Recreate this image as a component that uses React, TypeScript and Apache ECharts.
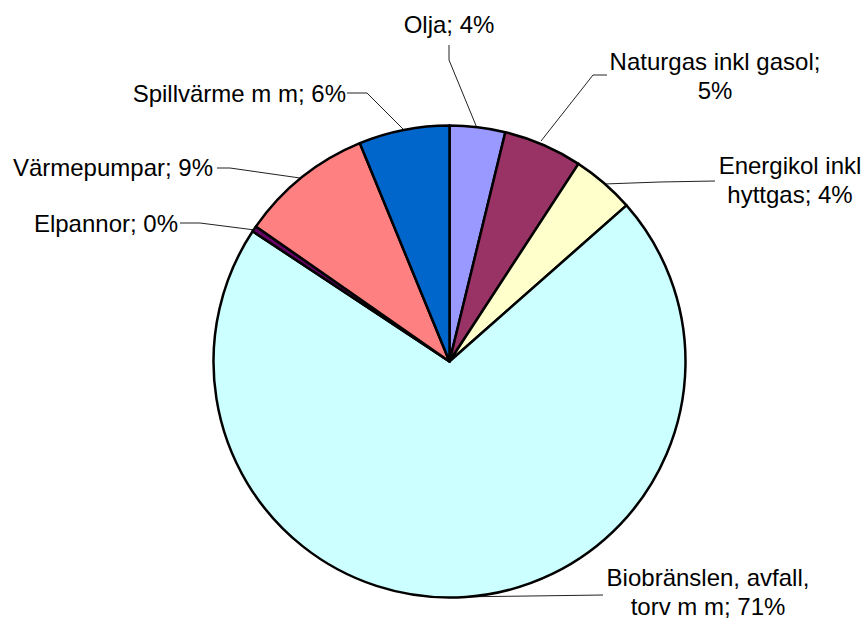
import React, { useEffect, useRef } from "react";
import * as echarts from "echarts";

const categories = [
  "Olja",
  "Naturgas inkl gasol",
  "Energikol inkl\nhyttgas",
  "Biobränslen, avfall,\ntorv m m",
  "Elpannor",
  "Värmepumpar",
  "Spillvärme m m",
];
const values = [3.8, 5.4, 4.3, 70.8, 0.4, 9.1, 6.2];
const colors = ["#9999FF", "#993366", "#FFFFCC", "#CCFFFF", "#660066", "#FF8080", "#0066CC"];
// separator placed between name and percentage
const separators = [" ", "\n", " ", " ", " ", " ", " "];

// label placement (text anchor) and leader line points
const labelPos: { x: number; y: number; align: string }[] = [
  { x: 449, y: 24, align: "center" },
  { x: 715, y: 76, align: "center" },
  { x: 790, y: 180, align: "center" },
  { x: 708, y: 592, align: "center" },
  { x: 178, y: 223, align: "right" },
  { x: 213, y: 167, align: "right" },
  { x: 346, y: 93, align: "right" },
];
const linePts: number[][][] = [
  [[449, 45], [449, 60], [477, 128]],
  [[607, 75], [593, 75], [541, 141]],
  [[715, 181], [660, 182], [604, 184]],
  [[603, 595], [530, 596], [452, 597]],
  [[180, 223], [200, 223], [255, 230]],
  [[217, 168], [230, 168], [300, 178]],
  [[347, 93], [367, 93], [403, 129]],
];

export default function App() {
  const ref = useRef<HTMLDivElement>(null);
  useEffect(() => {
    if (!ref.current) return;
    const chart = echarts.init(ref.current, null, { renderer: "svg" });
    chart.setOption({
      animation: false,
      backgroundColor: "#ffffff",
      series: [
        {
          type: "pie",
          center: [449.5, 361.5],
          radius: 236,
          startAngle: 90,
          clockwise: true,
          avoidLabelOverlap: false,
          data: categories.map((c, i) => ({
            name: c,
            value: values[i],
            itemStyle: { color: colors[i] },
          })),
          itemStyle: { borderColor: "#000000", borderWidth: 2.5 },
          label: {
            show: true,
            fontFamily: "Liberation Sans, Arial, sans-serif",
            fontSize: 24,
            lineHeight: 29,
            color: "#000000",
            formatter: (p: any) =>
              p.name + ";" + separators[p.dataIndex] + Math.round(p.percent) + "%",
          },
          labelLine: {
            show: true,
            lineStyle: { color: "#222222", width: 1 },
          },
          labelLayout: (params: any) => {
            const i = params.dataIndex;
            const lp = labelPos[i];
            return {
              x: lp.x,
              y: lp.y,
              align: lp.align,
              verticalAlign: "middle",
              labelLinePoints: linePts[i],
            };
          },
          emphasis: { disabled: true },
        },
      ],
    });
    return () => chart.dispose();
  }, []);
  return (
    <div
      ref={ref}
      style={{ position: "absolute", left: 0, top: 0, width: 865, height: 621 }}
    />
  );
}
